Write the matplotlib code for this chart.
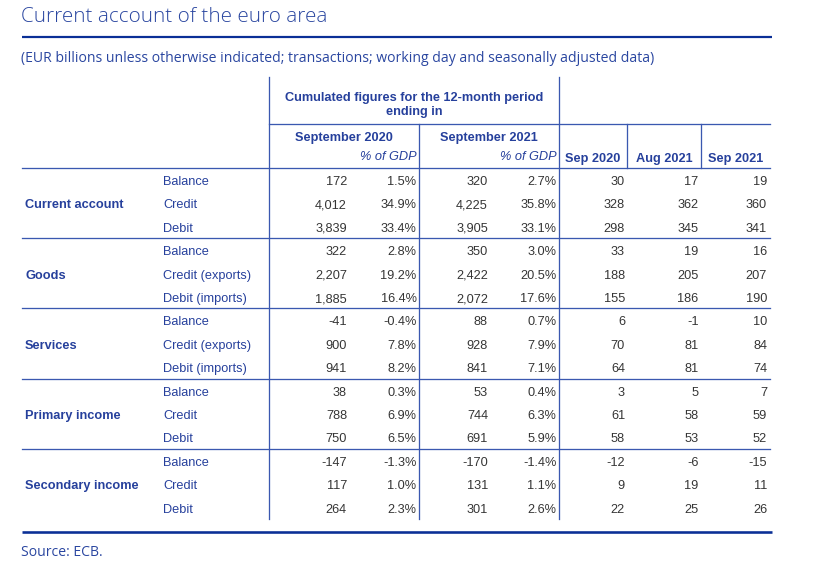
import matplotlib
matplotlib.use("Agg")
import matplotlib.pyplot as plt

# ---------------- data ----------------
title = "Current account of the euro area"
subtitle = "(EUR billions unless otherwise indicated; transactions; working day and seasonally adjusted data)"
source = "Source: ECB."

groups = ["Current account", "Goods", "Services", "Primary income", "Secondary income"]
items = [
    ["Balance", "Credit", "Debit"],
    ["Balance", "Credit (exports)", "Debit (imports)"],
    ["Balance", "Credit (exports)", "Debit (imports)"],
    ["Balance", "Credit", "Debit"],
    ["Balance", "Credit", "Debit"],
]
header_top = "Cumulated figures for the 12-month period\nending in"
period_headers = ["September 2020", "September 2021"]
gdp_header = "% of GDP"
month_headers = ["Sep 2020", "Aug 2021", "Sep 2021"]

sep2020_12m = ["172", "4,012", "3,839", "322", "2,207", "1,885", "-41", "900", "941",
               "38", "788", "750", "-147", "117", "264"]
sep2020_gdp = ["1.5%", "34.9%", "33.4%", "2.8%", "19.2%", "16.4%", "-0.4%", "7.8%", "8.2%",
               "0.3%", "6.9%", "6.5%", "-1.3%", "1.0%", "2.3%"]
sep2021_12m = ["320", "4,225", "3,905", "350", "2,422", "2,072", "88", "928", "841",
               "53", "744", "691", "-170", "131", "301"]
sep2021_gdp = ["2.7%", "35.8%", "33.1%", "3.0%", "20.5%", "17.6%", "0.7%", "7.9%", "7.1%",
               "0.4%", "6.3%", "5.9%", "-1.4%", "1.1%", "2.6%"]
m_sep2020 = ["30", "328", "298", "33", "188", "155", "6", "70", "64", "3", "61", "58", "-12", "9", "22"]
m_aug2021 = ["17", "362", "345", "19", "205", "186", "-1", "81", "81", "5", "58", "53", "-6", "19", "25"]
m_sep2021 = ["19", "360", "341", "16", "207", "190", "10", "84", "74", "7", "59", "52", "-15", "11", "26"]

columns = [sep2020_12m, sep2020_gdp, sep2021_12m, sep2021_gdp, m_sep2020, m_aug2021, m_sep2021]

# ---------------- style ----------------
W, H = 814, 566
BLUE_T = "#26409c"
BLUE_TITLE = "#2a46a0"
LINE = "#3a58b0"
THICK = "#0a2f96"
NUM = "#353535"
TF = "Liberation Sans"
OF = "Open Sans"
FS = 9.2

fig = plt.figure(figsize=(W / 100, H / 100), dpi=100)
ax = fig.add_axes([0, 0, 1, 1])
ax.set_xlim(0, W)
ax.set_ylim(H, 0)
ax.axis("off")

def px(v):
    return v * 0.72

# title & subtitle
ax.text(21, 16.5, title, family=OF, fontsize=14.9, fontweight="light", color=BLUE_TITLE,
        va="center", ha="left")
ax.plot([22, 772], [37, 37], color=THICK, lw=px(2.2), solid_capstyle="butt")
ax.text(21, 58, subtitle, family=OF, fontsize=10.05, color=BLUE_TITLE, va="center", ha="left")

# grid geometry
x_left, x_right = 22, 770
v_main, v_mid, v_split = 268.5, 419, 559
v_m1, v_m2 = 627, 701
top = 77
h_mid = 123.5
h_head = 168
g_h = 70.2
row_off = [12.5, 35.9, 59.3]
bottom = h_head + g_h * len(groups)

lw_thin = px(1.3)
ax.plot([v_main, v_main], [top, bottom], color=LINE, lw=lw_thin)
ax.plot([v_split, v_split], [top, bottom], color=LINE, lw=lw_thin)
ax.plot([v_mid, v_mid], [h_mid, bottom], color=LINE, lw=lw_thin)
ax.plot([v_m1, v_m1], [h_mid, h_head], color=LINE, lw=lw_thin)
ax.plot([v_m2, v_m2], [h_mid, h_head], color=LINE, lw=lw_thin)
ax.plot([v_main, x_right], [h_mid, h_mid], color=LINE, lw=lw_thin)
for gi in range(len(groups)):
    y = h_head + gi * g_h
    ax.plot([x_left, x_right], [y, y], color=LINE, lw=lw_thin)
ax.plot([22, 772], [532, 532], color=THICK, lw=px(2.6), solid_capstyle="butt")

# header text
ax.text((v_main + v_split) / 2, 105, header_top, family=TF, fontsize=FS, fontweight="bold",
        color=BLUE_T, ha="center", va="center", linespacing=1.25)
period_centers = [(v_main + v_mid) / 2, (v_mid + v_split) / 2]
gdp_right = [416.5, 556.5]
for c, lab, gr in zip(period_centers, period_headers, gdp_right):
    ax.text(c, 137 + 4.5, lab, family=TF, fontsize=FS, fontweight="bold", color=BLUE_T,
            ha="center", va="baseline")
    ax.text(gr, 156 + 4.5, gdp_header, family=TF, fontsize=FS, style="italic", color=BLUE_T,
            ha="right", va="baseline")
month_centers = [(v_split + v_m1) / 2, (v_m1 + v_m2) / 2, (v_m2 + x_right) / 2]
for c, lab in zip(month_centers, month_headers):
    ax.text(c, 157.5 + 4.5, lab, family=TF, fontsize=FS, fontweight="bold", color=BLUE_T,
            ha="center", va="baseline")

# body
col_right = [347, 416.5, 488, 556.5, 625, 698.5, 767]
r = 0
for gi, g in enumerate(groups):
    gy = h_head + gi * g_h
    ax.text(25, gy + row_off[1] + 4.5, g, family=TF, fontsize=FS, fontweight="bold",
            color=BLUE_T, ha="left", va="baseline")
    for k, item in enumerate(items[gi]):
        y = gy + row_off[k] + 4.5
        ax.text(163, y, item, family=TF, fontsize=FS, color=BLUE_T, ha="left", va="baseline")
        for col, xr in zip(columns, col_right):
            ax.text(xr, y, col[r], family=TF, fontsize=FS, color=NUM, ha="right", va="baseline")
        r += 1

ax.text(21, 553, source, family=OF, fontsize=10.05, color=BLUE_TITLE, va="center", ha="left")

fig.savefig("out.png", dpi=100)
